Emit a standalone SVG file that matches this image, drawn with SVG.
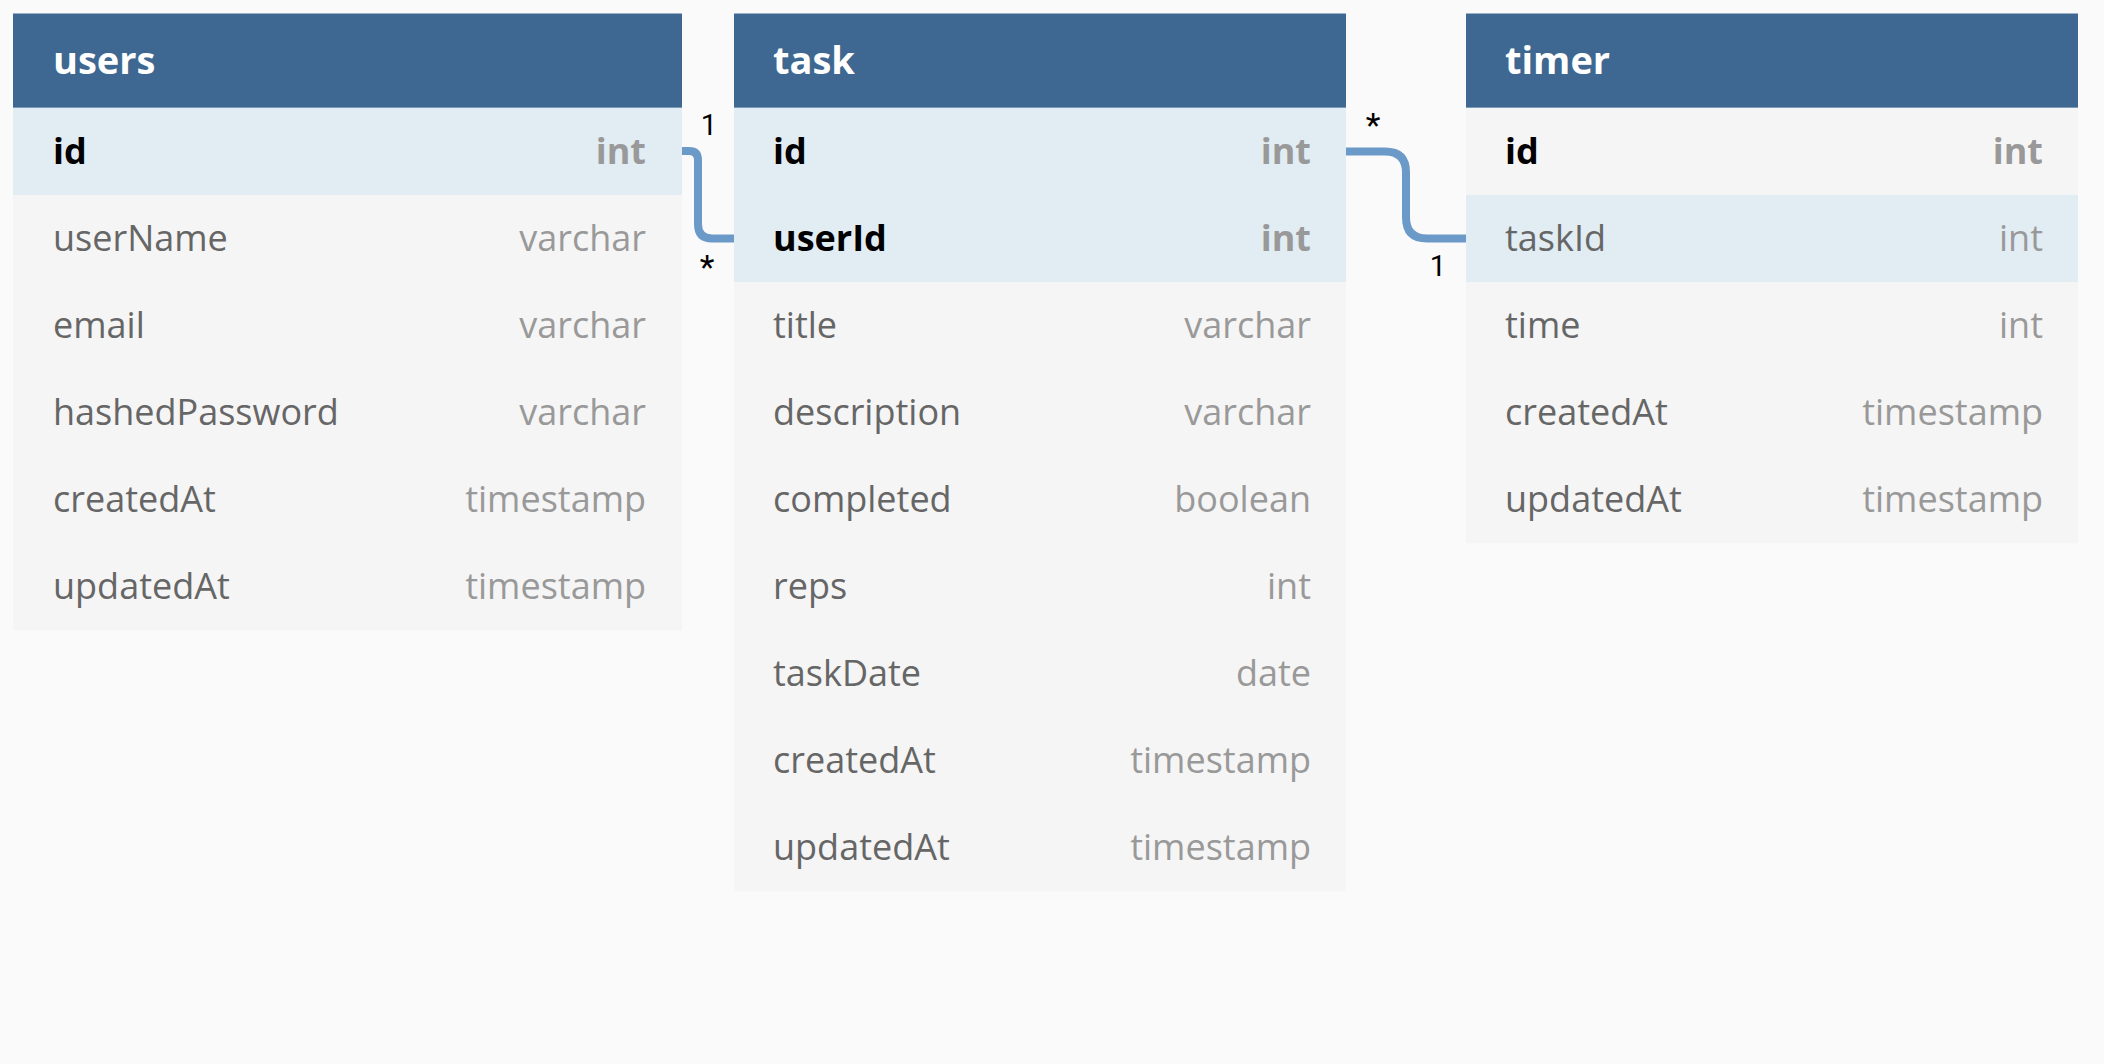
<svg xmlns="http://www.w3.org/2000/svg" width="2104" height="1064" viewBox="0 0 2104 1064">
<style>
.bg{fill:#fafafa}
.hd{fill:#3e6891}
.hdt{font-family:"Open Sans","Liberation Sans",sans-serif;font-weight:700;font-size:38px;fill:#ffffff}
.row{fill:#f5f5f5}
.hl{fill:#e1ecf3}
.nm{font-family:"Open Sans","Liberation Sans",sans-serif;font-size:36px;fill:#666666}
.ty{font-family:"Open Sans","Liberation Sans",sans-serif;font-size:36px;fill:#999999;text-anchor:end}
.pk{font-weight:700;fill:#000000}
.pkt{font-weight:700}
.conn{fill:none;stroke:#6b9ac9;stroke-width:8}
.card{font-family:Roboto,"Liberation Sans",sans-serif;font-size:29px;fill:#000000;text-anchor:middle}
.star{font-size:34px}
</style>
<rect class="bg" x="0" y="0" width="2104" height="1064"/>

<g id="connectors">
<path class="conn" d="M682,151 H689 Q698,151 698,160 V224 Q698,238.5 712,238.5 H734"/>
<path class="conn" d="M1346,151.5 H1385 Q1406,151.5 1406,172.5 V217.5 Q1406,238.5 1427,238.5 H1466"/>
<text class="card" x="709" y="135">1</text>
<text class="card star" x="707" y="279">*</text>
<text class="card star" x="1373" y="137">*</text>
<text class="card" x="1438" y="276">1</text>
</g>

<g id="users">
<rect class="hd" x="13" y="13.5" width="669" height="94.3"/>
<text class="hdt" x="53" y="74">users</text>
<rect class="hl" x="13" y="107.8" width="669" height="87.1"/>
<rect class="row" x="13" y="194.9" width="669" height="435.5"/>
<text class="nm pk" x="53" y="164">id</text><text class="ty pkt" x="646" y="164">int</text>
<text class="nm" x="53" y="251">userName</text><text class="ty" x="646" y="251">varchar</text>
<text class="nm" x="53" y="338">email</text><text class="ty" x="646" y="338">varchar</text>
<text class="nm" x="53" y="425">hashedPassword</text><text class="ty" x="646" y="425">varchar</text>
<text class="nm" x="53" y="512">createdAt</text><text class="ty" x="646" y="512">timestamp</text>
<text class="nm" x="53" y="599">updatedAt</text><text class="ty" x="646" y="599">timestamp</text>
</g>

<g id="task">
<rect class="hd" x="734" y="13.5" width="612" height="94.3"/>
<text class="hdt" x="773" y="74">task</text>
<rect class="hl" x="734" y="107.8" width="612" height="174.2"/>
<rect class="row" x="734" y="282" width="612" height="609.7"/>
<text class="nm pk" x="773" y="164">id</text><text class="ty pkt" x="1311" y="164">int</text>
<text class="nm pk" x="773" y="251">userId</text><text class="ty pkt" x="1311" y="251">int</text>
<text class="nm" x="773" y="338">title</text><text class="ty" x="1311" y="338">varchar</text>
<text class="nm" x="773" y="425">description</text><text class="ty" x="1311" y="425">varchar</text>
<text class="nm" x="773" y="512">completed</text><text class="ty" x="1311" y="512">boolean</text>
<text class="nm" x="773" y="599">reps</text><text class="ty" x="1311" y="599">int</text>
<text class="nm" x="773" y="686">taskDate</text><text class="ty" x="1311" y="686">date</text>
<text class="nm" x="773" y="773">createdAt</text><text class="ty" x="1311" y="773">timestamp</text>
<text class="nm" x="773" y="860">updatedAt</text><text class="ty" x="1311" y="860">timestamp</text>
</g>

<g id="timer">
<rect class="hd" x="1466" y="13.5" width="612" height="94.3"/>
<text class="hdt" x="1505" y="74">timer</text>
<rect class="row" x="1466" y="107.8" width="612" height="435.5"/>
<rect class="hl" x="1466" y="194.9" width="612" height="87.1"/>
<text class="nm pk" x="1505" y="164">id</text><text class="ty pkt" x="2043" y="164">int</text>
<text class="nm" x="1505" y="251">taskId</text><text class="ty" x="2043" y="251">int</text>
<text class="nm" x="1505" y="338">time</text><text class="ty" x="2043" y="338">int</text>
<text class="nm" x="1505" y="425">createdAt</text><text class="ty" x="2043" y="425">timestamp</text>
<text class="nm" x="1505" y="512">updatedAt</text><text class="ty" x="2043" y="512">timestamp</text>
</g>
</svg>
